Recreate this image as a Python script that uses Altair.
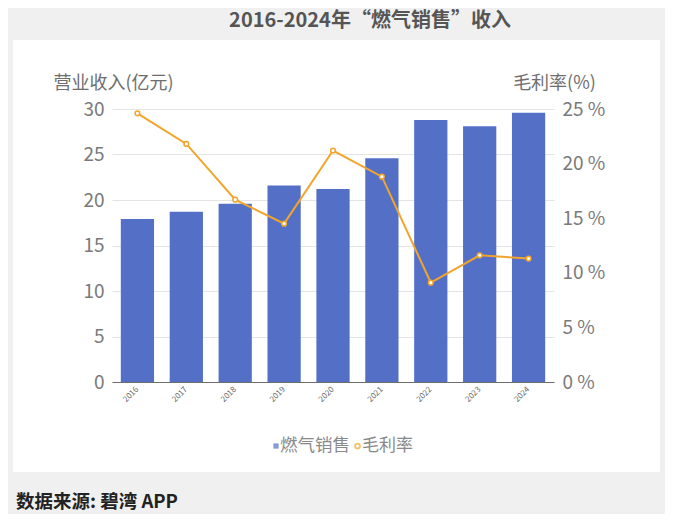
import altair as alt
import pandas as pd

years = ["2016", "2017", "2018", "2019", "2020", "2021", "2022", "2023", "2024"]
revenue = [17.9, 18.7, 19.6, 21.6, 21.2, 24.6, 28.8, 28.1, 29.6]
margin = [24.6, 21.8, 16.7, 14.5, 21.2, 18.8, 9.1, 11.6, 11.3]
series_names = ["燃气销售", "毛利率"]
title_text = "2016-2024年“燃气销售”收入"
source_text = "数据来源: 碧湾 APP"
left_title = "营业收入(亿元)"
right_title = "毛利率(%)"

BLUE = "#5470C6"
ORANGE = "#F3A42B"
GREY_BG = "#F0F0F0"
FONT = "Noto Sans CJK SC"

df = pd.DataFrame({"year": years, "revenue": revenue, "margin": margin})

W, H = 442, 273
one = alt.Data(values=[{"a": 1}])

def strip(x, x2, y, y2):
    return alt.Chart(one).mark_rect(color=GREY_BG).encode(
        x=alt.value(x), x2=alt.value(x2), y=alt.value(y), y2=alt.value(y2)
    )

strips = [
    strip(-104, 553, -101, -69),
    strip(-104, 553, 363, 405),
    strip(-104, -99, -69, 363),
    strip(548, 553, -69, 363),
]

base = alt.Chart(df)
x_enc = alt.X("year:N", sort=years, scale=alt.Scale(paddingInner=0.32, paddingOuter=0.18),
              axis=alt.Axis(title=None, labelAngle=-45, labelAlign="right", labelBaseline="middle",
                            labelPadding=6, labelFontSize=8, labelColor="#666666", labelFont=FONT,
                            ticks=False, domainColor="#6E6E6E", domainWidth=1.2))

bars = base.mark_bar(color=BLUE).encode(
    x=x_enc,
    y=alt.Y("revenue:Q", scale=alt.Scale(domain=[0, 30]),
            axis=alt.Axis(title=left_title, titleAngle=0, titleAlign="center", titleBaseline="middle",
                          titleX=1, titleY=-26, titleFont=FONT, titleFontSize=18, titleFontWeight="normal",
                          titleColor="#6E6E6E", values=[0, 5, 10, 15, 20, 25, 30],
                          labelFont=FONT, labelFontSize=19, labelColor="#7A7A7A", labelPadding=8,
                          ticks=False, domain=False, grid=True, gridColor="#E4E4E4")),
)

line = base.mark_line(color=ORANGE, strokeWidth=2,
                      point=alt.OverlayMarkDef(filled=False, fill="white", size=22, strokeWidth=1.5, color=ORANGE)).encode(
    x=alt.X("year:N", sort=years),
    y=alt.Y("margin:Q", scale=alt.Scale(domain=[0, 25]),
            axis=alt.Axis(title=right_title, orient="right", titleAngle=0, titleAlign="center",
                          titleBaseline="middle", titleX=0, titleY=-26, titleFont=FONT, titleFontSize=18,
                          titleFontWeight="normal", titleColor="#6E6E6E", values=[0, 5, 10, 15, 20, 25],
                          labelExpr="datum.value + ' %'", labelFont=FONT, labelFontSize=19,
                          labelColor="#7A7A7A", labelPadding=8, ticks=False, domain=False, grid=False)),
)

# legend built from the series names
leg_sq = alt.Chart(one).mark_point(shape="square", filled=True, color=BLUE, size=28).encode(
    x=alt.value(164), y=alt.value(337))
leg_sq_txt = alt.Chart(one).mark_text(text=series_names[0], font=FONT, fontSize=17.5, color="#8A8A8A",
                                      align="left", baseline="middle").encode(x=alt.value(168), y=alt.value(337))
leg_ci = alt.Chart(one).mark_point(shape="circle", filled=False, fill="white", color=ORANGE,
                                   strokeWidth=1.8, size=24).encode(x=alt.value(245.5), y=alt.value(337))
leg_ci_txt = alt.Chart(one).mark_text(text=series_names[1], font=FONT, fontSize=17, color="#8A8A8A",
                                      align="left", baseline="middle").encode(x=alt.value(250), y=alt.value(337))

title = alt.Chart(one).mark_text(text=title_text, font=FONT, fontSize=20, fontWeight="bold",
                                 color="#555555", align="center", baseline="middle").encode(
    x=alt.value(258), y=alt.value(-88))
footer = alt.Chart(one).mark_text(text=source_text, font=FONT, fontSize=18.5, fontWeight="bold",
                                  color="#222222", align="left", baseline="middle").encode(
    x=alt.value(-96), y=alt.value(393))

main = alt.layer(bars, line).resolve_scale(y="independent")

chart = alt.layer(*strips, title, footer, leg_sq, leg_sq_txt, leg_ci, leg_ci_txt, main).properties(
    width=W, height=H,
    autosize=alt.AutoSizeParams(type="none"),
    padding={"left": 104, "top": 101, "right": 111, "bottom": 132},
    background="white",
).configure_view(stroke=None)

chart.save("out.html", embed_options={"renderer": "svg", "actions": False})
